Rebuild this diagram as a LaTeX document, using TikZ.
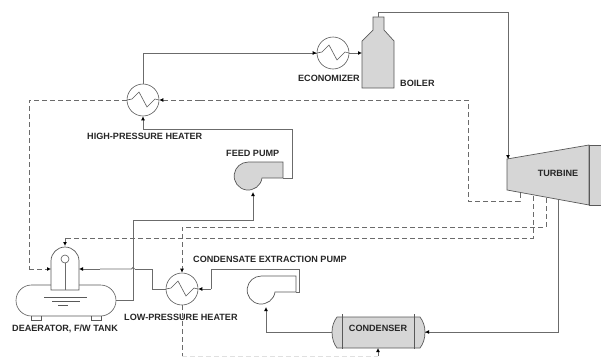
\documentclass[tikz,border=0pt]{standalone}
\usepackage{fontspec}
\setmainfont{Liberation Sans}
\usetikzlibrary{arrows.meta}
\usetikzlibrary{shapes.misc}
\colorlet{pipe}{black!58}
\colorlet{body}{black!16}
\tikzset{
  flow/.style={draw=pipe,line width=0.9pt},
  feed/.style={flow,-{Latex[length=4pt,width=4pt,color=black]}},
  steam/.style={draw=pipe,line width=0.8pt,dash pattern=on 5pt off 3pt},
  steamin/.style={steam,-{Latex[length=4pt,width=4pt,color=black]}},
  tag/.style={font=\bfseries\fontsize{9.1}{10}\selectfont,text=black!85,inner sep=0pt},
  heater/.style={draw=black!65,circle,minimum size=32pt,inner sep=0pt,line width=0.6pt,
    path picture={ \draw[black!65,line width=0.6pt] ([shift={(-16pt,0pt)}]path picture bounding box.center)
      -- ++(5pt,1pt) -- ++(7pt,7pt) -- ++(8pt,-15pt) -- ++(8pt,8pt) -- ++(4pt,-1pt); }},
  shell/.style={draw=black!65,line width=0.7pt}
}
\begin{document}
\begin{tikzpicture}[x=1pt,y=-1pt]
\useasboundingbox (0,0) rectangle (601,356);
\clip (0,0) rectangle (601,356);
% heaters
\node[heater](hp) at (143,100){};
\node[heater](eco) at (333,53){};
\node[heater](lp) at (182,289){};
% boiler
\draw[shell,fill=body] (362,88) -- (362,41) -- (373,30) -- (373,17) -- (384,17) -- (384,30) -- (394,41) -- (394,88) -- cycle;
\coordinate (boilerin) at (362,53);
\coordinate (boilerout) at (378,17);
% turbine
\draw[shell,fill=body] (507,159) -- (589,145) -- (589,205) -- (507,190) -- cycle;
\draw[shell,fill=body] (601,145) -- (589,145) -- (589,205) -- (601,205);
\node[tag](turbine) at (558,173){TURBINE};
\coordinate (turbinein) at (508,159);
\coordinate (turbineout) at (558,200);
\coordinate (bleeda) at (520,193);
\coordinate (bleedb) at (533,196);
\coordinate (bleedc) at (546,198);
% feed pump
\draw[shell,fill=body] (262,178) arc (8:270:14) -- (283,162) -- (283,178) -- cycle;
\coordinate (feedout) at (283,178);
\coordinate (feedin) at (253,192);
% condensate pump
\draw[shell,fill=white] (275,292) arc (8:270:14) -- (296,276) -- (296,292) -- cycle;
\coordinate (condout) at (296,292);
\coordinate (condin) at (266,307);
% condenser
\draw[shell,fill=body] (337,317) -- (420,317) .. controls (423,321) and (425,326) .. (425,332)
  .. controls (425,339) and (423,344) .. (420,348) -- (337,348) .. controls (334,344) and (332,339) .. (332,332)
  .. controls (332,326) and (334,321) .. (337,317) -- cycle;
\draw[shell] (342,314) -- (342,349);
\draw[shell] (414,314) -- (414,349);
\node[tag](condenser) at (378,328){CONDENSER};
\coordinate (condenserl) at (332,332);
\coordinate (condenserr) at (425,332);
\coordinate (condenserb) at (378,348);
% deaerator and tank
\node[draw=black!65,fill=white,rounded rectangle,minimum width=100pt,minimum height=31pt,inner sep=0pt,line width=0.6pt](tank) at (66,300.5){};
\draw[shell,fill=white] (51,290) -- (51,261) arc (180:360:14) -- (79,290) -- cycle;
\draw[draw=pipe,line width=0.9pt] (65,263) -- (65,290);
\node[draw=black!65,fill=white,circle,minimum size=8pt,inner sep=0pt,line width=0.6pt](head) at (65,259){};
\draw[shell] (44,297) -- (87,297) (52,301) -- (80,301) (58,305) -- (68,305);
\draw[shell] (31,316) -- (31,320) -- (41,320) -- (41,316);
\draw[shell] (91,316) -- (91,320) -- (101,320) -- (101,316);
\coordinate (dometop) at (65,246);
\coordinate (domel) at (51,269);
\coordinate (domer) at (79,269);
\coordinate (tankout) at (116,300);
% water and steam
\draw[flow] (hp.north) -- (143,53) -- (eco.west);
\draw[feed] (300,53) -- (eco.west);
\draw[feed] (eco.east) -- (boilerin);
\draw[flow] (boilerout) -- (378,12) -- (508,12) -- (turbinein);
\draw[feed] (508,150) -- (turbinein);
\draw[flow] (turbineout) -- (558,332) -- (condenserr);
\draw[feed] (440,332) -- (condenserr);
\draw[flow] (condenserl) -- (266,332) -- (266,320);
\draw[feed] (266,320) -- (condin);
\draw[flow] (condout) -- (299,292) -- (299,269) -- (211,269) -- (211,289);
\draw[feed] (211,289) -- (lp.east);
\draw[flow] (lp.west) -- (152,289) -- (152,269) -- (134.5,269);
\draw[flow] (134.5,269) arc (0:-180:1.5) -- (100,269);
\draw[feed] (100,269) -- (domer);
\draw[flow] (tankout) -- (133,300) -- (133,220) -- (253,220) -- (253,200);
\draw[feed] (253,200) -- (feedin);
\draw[flow] (feedout) -- (292,178) -- (292,129) -- (143,129);
\draw[feed] (143,129) -- (hp.south);
% bleeds
\draw[steam] (bleeda) -- (520,201) -- (468,201) -- (468,100) -- (200,100);
\draw[steamin] (200,100) -- (hp.east);
\draw[steam] (hp.west) -- (29,100) -- (29,269);
\draw[steamin] (29,269) -- (domel);
\draw[steam] (bleedc) -- (546,227) -- (182,227) -- (182,250);
\draw[steamin] (182,250) -- (lp.north);
\draw[steam] (bleedb) -- (533,238) -- (65,238);
\draw[steamin] (65,238) -- (dometop);
\draw[steam] (lp.south) -- (182,356);
\draw[steam,draw=black!12] (182,356) -- (378,356);
\draw[feed] (378,356) -- (condenserb);
% labels
\node[tag,anchor=west](hplabel) at (87,136){HIGH-PRESSURE HEATER};
\node[tag,anchor=east](ecolabel) at (360,78){ECONOMIZER};
\node[tag,anchor=west](boilerlabel) at (400,83){BOILER};
\node[tag,anchor=west](feedlabel) at (226,153){FEED PUMP};
\node[tag,anchor=west](condlabel) at (193,259){CONDENSATE EXTRACTION PUMP};
\node[tag,anchor=west](lplabel) at (124,317){LOW-PRESSURE HEATER};
\node[tag,anchor=west](tanklabel) at (12,329){DEAERATOR, F/W TANK};
\end{tikzpicture}
\end{document}
